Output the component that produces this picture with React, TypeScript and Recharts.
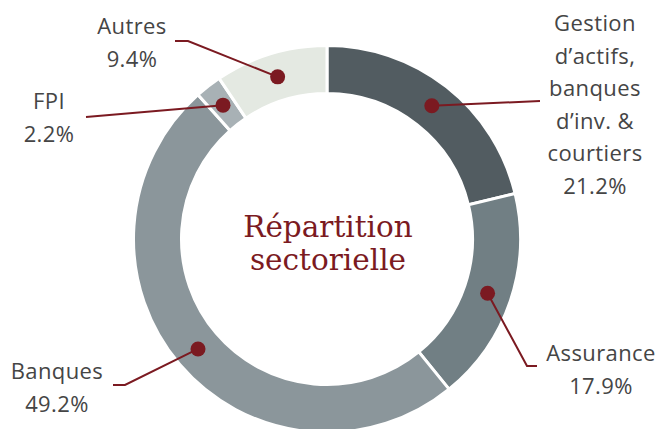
import React from "react";
import { PieChart, Pie, Cell } from "recharts";

const categories: string[][] = [
  ["Gestion", "d’actifs,", "banques", "d’inv. &", "courtiers"],
  ["Assurance"],
  ["Banques"],
  ["FPI"],
  ["Autres"],
];
const values: number[] = [21.2, 17.9, 49.2, 2.2, 9.4];
const valueLabels: string[] = ["21.2%", "17.9%", "49.2%", "2.2%", "9.4%"];
const colors: string[] = ["#525c61", "#717f84", "#8b969b", "#a8b1b5", "#e4e9e2"];
const centerTitle: string[] = ["Répartition", "sectorielle"];

const data = values.map((v, i) => ({ name: categories[i].join(" "), value: v, idx: i }));

// label layout: text center x, first line center y, leader polyline points after the dot
const labelLayout = [
  { tx: 595, ty: 22, pts: [[540, 101]] },
  { tx: 601, ty: 352, pts: [[527, 366], [537, 366]] },
  { tx: 57, ty: 370, pts: [[125, 385], [113, 385]] },
  { tx: 49, ty: 100, pts: [[86, 117]] },
  { tx: 132, ty: 25, pts: [[188, 41], [175, 41]] },
];

const RAD = Math.PI / 180;
const LINE_H = 32.5;
const RED = "#7b1a21";

const renderLabel = (props: any) => {
  const { cx, cy, midAngle, innerRadius, outerRadius, index } = props;
  const r = (innerRadius + outerRadius) / 2;
  const x = cx + r * Math.cos(-midAngle * RAD);
  const y = cy + r * Math.sin(-midAngle * RAD);
  const lay = labelLayout[index];
  const lines = [...categories[index], valueLabels[index]];
  const points = [[x, y], ...lay.pts].map((p) => p.join(",")).join(" ");
  return (
    <g key={`lbl-${index}`}>
      <polyline points={points} fill="none" stroke={RED} strokeWidth={2} />
      <circle cx={x} cy={y} r={7.5} fill={RED} />
      <text
        x={lay.tx}
        y={lay.ty}
        textAnchor="middle"
        fill="#454545"
        style={{ fontFamily: "'Open Sans', sans-serif", fontSize: 22, letterSpacing: 0.4 }}
      >
        {lines.map((l, i) => (
          <tspan key={i} x={lay.tx} y={lay.ty + i * LINE_H} dominantBaseline="central">
            {l}
          </tspan>
        ))}
      </text>
    </g>
  );
};

export default function App() {
  return (
    <div style={{ position: "fixed", left: 0, top: 0, width: 660, height: 429, background: "#fff" }}>
      <PieChart width={660} height={429} margin={{ top: 0, right: 0, bottom: 0, left: 0 }}>
        <Pie
          data={data}
          dataKey="value"
          cx={327}
          cy={239}
          innerRadius={145.5}
          outerRadius={193.5}
          startAngle={90}
          endAngle={-270}
          stroke="#ffffff"
          strokeWidth={3}
          label={renderLabel}
          labelLine={false}
          isAnimationActive={false}
        >
          {data.map((d, i) => (
            <Cell key={i} fill={colors[i]} />
          ))}
        </Pie>
        <text
          x={328}
          y={237}
          textAnchor="middle"
          fill={RED}
          style={{ fontFamily: "'DejaVu Serif', serif", fontSize: 29.5 }}
        >
          <tspan x={328} y={237}>{centerTitle[0]}</tspan>
          <tspan x={328} y={270}>{centerTitle[1]}</tspan>
        </text>
      </PieChart>
    </div>
  );
}
